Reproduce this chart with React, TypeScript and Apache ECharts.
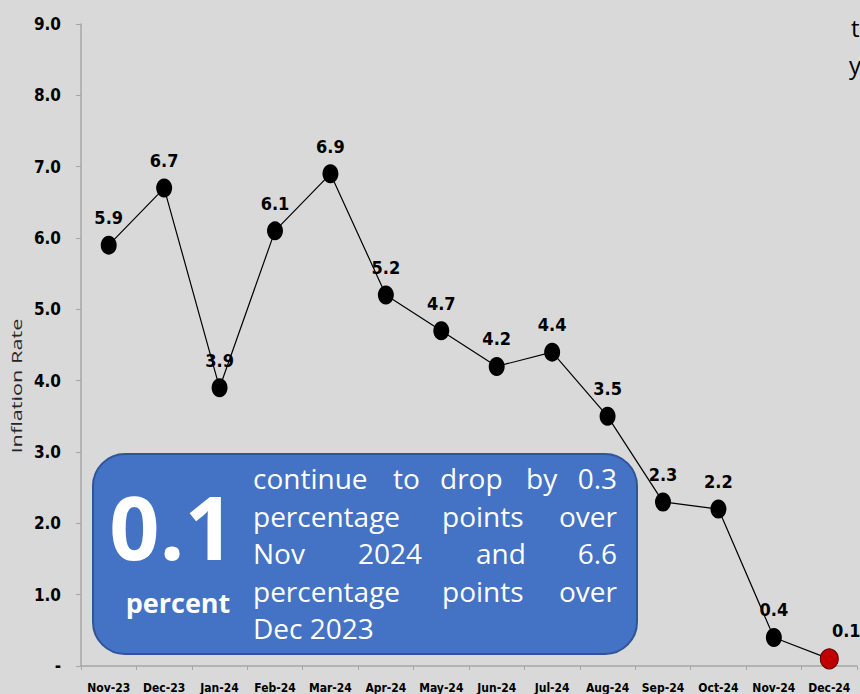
import React, { useEffect, useRef } from "react";
import * as echarts from "echarts";

const months = ["Nov-23", "Dec-23", "Jan-24", "Feb-24", "Mar-24", "Apr-24", "May-24", "Jun-24", "Jul-24", "Aug-24", "Sep-24", "Oct-24", "Nov-24", "Dec-24"];
const inflation = [5.9, 6.7, 3.9, 6.1, 6.9, 5.2, 4.7, 4.2, 4.4, 3.5, 2.3, 2.2, 0.4, 0.1];
const yTicks = { min: 0, max: 9, interval: 1 };

const boxLines: { words: string[]; xs: number[] }[] = [
  { words: ["continue", "to", "drop", "by", "0.3"], xs: [253, 393, 440, 526, 617] },
  { words: ["percentage", "points", "over"], xs: [253, 442, 617] },
  { words: ["Nov", "2024", "and", "6.6"], xs: [253, 358, 476, 617] },
  { words: ["percentage", "points", "over"], xs: [253, 442, 617] },
  { words: ["Dec 2023"], xs: [253] },
];

const NARROW = '"Liberation Sans Narrow", "Arial Narrow", "DejaVu Sans Condensed", sans-serif';
const LABELF = '"DejaVu Sans Condensed", "DejaVu Sans", sans-serif';
const BOXF = '"Open Sans", "Noto Sans", sans-serif';

export default function App() {
  const ref = useRef<HTMLDivElement>(null);
  useEffect(() => {
    if (!ref.current) return;
    const chart = echarts.init(ref.current, null, { renderer: "svg" });
    const last = inflation.length - 1;
    const data = inflation.map((v, i) =>
      i === last
        ? {
            value: v,
            symbolSize: [18, 20],
            itemStyle: { color: "#c00000", borderColor: "#5a0000", borderWidth: 1 },
            label: { offset: [17, 0] },
          }
        : v
    );

    const graphics: any[] = [
      {
        type: "rect",
        shape: { x: 93, y: 454, width: 544, height: 200, r: 32 },
        style: { fill: "#4472c4", stroke: "#2f5597", lineWidth: 2 },
        z: 100,
      },
      {
        type: "text",
        x: 172,
        y: 526,
        style: { text: "0.1", fill: "#ffffff", font: `bold 88px ${BOXF}`, lineHeight: 64, align: "center", verticalAlign: "middle" },
        z: 101,
      },
      {
        type: "text",
        x: 178,
        y: 602,
        style: { text: "percent", fill: "#ffffff", font: `bold 27px ${BOXF}`, lineHeight: 28, align: "center", verticalAlign: "middle" },
        z: 101,
      },
      {
        type: "text",
        x: 16,
        y: 386,
        rotation: Math.PI / 2,
        scaleX: 1.45,
        style: { text: "Inflation Rate", fill: "#262626", font: `15px ${BOXF}`, align: "center", verticalAlign: "middle" },
      },
      { type: "text", x: 851, y: 27, style: { text: "t", fill: "#000", font: `24px ${BOXF}`, align: "left", verticalAlign: "middle" } },
      { type: "text", x: 849, y: 64, style: { text: "y", fill: "#000", font: `24px ${BOXF}`, align: "left", verticalAlign: "middle" } },
    ];
    boxLines.forEach((ln, li) => {
      const y = 478 + 37.5 * li;
      const justified = ln.words.length > 1;
      ln.words.forEach((w, wi) => {
        const isLast = justified && wi === ln.words.length - 1;
        graphics.push({
          type: "text",
          x: ln.xs[wi],
          y,
          z: 101,
          style: {
            text: w,
            fill: "#ffffff",
            font: `28px ${BOXF}`,
            lineHeight: 30,
            align: isLast ? "right" : "left",
            verticalAlign: "middle",
          },
        });
      });
    });

    chart.setOption({
      animation: false,
      backgroundColor: "#d9d9d9",
      grid: { left: 81, right: 3, top: 24, bottom: 28 },
      xAxis: {
        type: "category",
        data: months,
        boundaryGap: true,
        axisLine: { lineStyle: { color: "#a6a6a6", width: 1.5 } },
        axisTick: { show: true, length: 4, lineStyle: { color: "#a6a6a6" } },
        axisLabel: { color: "#000", fontFamily: NARROW, fontWeight: "bold", fontSize: 12, margin: 16, interval: 0 },
      },
      yAxis: {
        type: "value",
        min: yTicks.min,
        max: yTicks.max,
        interval: yTicks.interval,
        splitLine: { show: false },
        axisLine: { show: true, lineStyle: { color: "#a6a6a6", width: 1.5 } },
        axisTick: { show: true, length: 5, lineStyle: { color: "#a6a6a6" } },
        axisLabel: {
          color: "#000",
          fontFamily: NARROW,
          fontWeight: "bold",
          fontSize: 17,
          margin: 20,
          formatter: (v: number) => (v === 0 ? "-" : v.toFixed(1)),
        },
      },
      series: [
        {
          type: "line",
          data,
          symbol: "circle",
          symbolSize: [16, 19],
          itemStyle: { color: "#000" },
          lineStyle: { color: "#000", width: 1.2 },
          label: {
            show: true,
            position: "top",
            distance: 9,
            color: "#000",
            fontFamily: LABELF,
            fontWeight: "bold",
            fontSize: 18,
            formatter: (p: any) => Number(p.value).toFixed(1),
          },
          z: 2,
        },
      ],
      graphic: graphics,
    });
    return () => chart.dispose();
  }, []);
  return <div ref={ref} style={{ position: "absolute", left: 0, top: 0, width: 860, height: 694 }} />;
}
